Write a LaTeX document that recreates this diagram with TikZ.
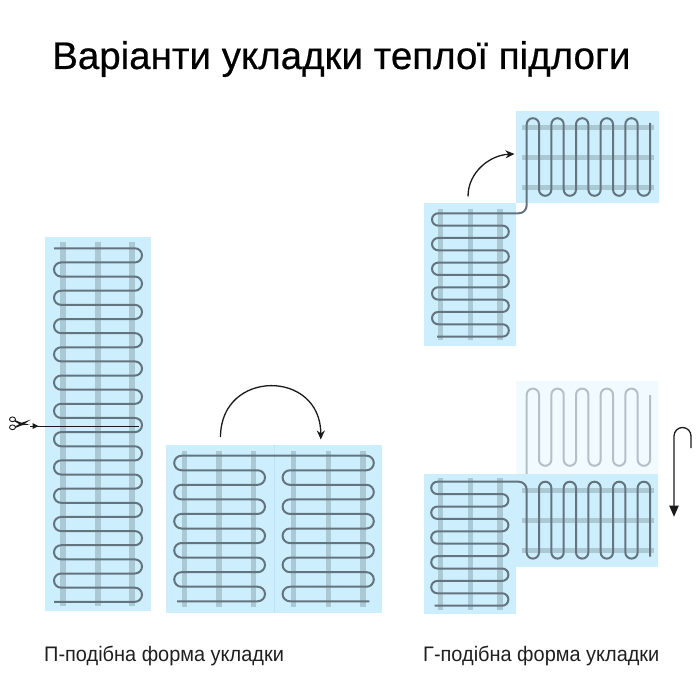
\documentclass[tikz,border=0pt]{standalone}
\usepackage{fontspec}
\setmainfont{Liberation Sans}
\newfontfamily\titlefont[FakeBold=0.5]{Liberation Sans}
\usetikzlibrary{arrows.meta}

\definecolor{matblue}{HTML}{CDEEFD}
\definecolor{matpale}{HTML}{F0FAFF}
\definecolor{matline}{HTML}{BFE3F3}
\definecolor{barblue}{HTML}{ABC8D5}
\definecolor{wiregray}{HTML}{64747F}
\definecolor{ghostgray}{HTML}{B6BFC5}
\definecolor{arrowgray}{HTML}{1A1A1A}

\tikzset{
    mat/.style={fill=matblue,draw=none},
    bar/.style={barblue,line width=5.5pt},
    wire/.style={wiregray,line width=2pt},
    ghostwire/.style={ghostgray,line width=2pt},
    turnarrow/.style={-{Stealth[length=9pt,width=8pt]},arrowgray,line width=1.3pt},
    captext/.style={anchor=base west,inner sep=0pt,xscale=0.95,font=\fontsize{21}{24}\selectfont,text=black!88},
}

% loops running left-right: style, start x, first turn x, second turn x, first y, pitch, last turn, end x
\newcommand{\hserp}[8]{
    \pgfmathsetmacro{\rad}{#6/2}
    \draw[#1,rounded corners=\rad pt] (#2,#5)
        foreach \k [evaluate=\k as \xt using {ifthenelse(mod(\k,2)==0,#3,#4)}] in {0,...,#7}
        { -- (\xt,{#5+\k*#6}) -- (\xt,{#5+(\k+1)*#6}) }
        -- (#8,{#5+(#7+1)*#6});
}
% loops running up-down: style, start y, first turn y, second turn y, first x, pitch, last turn, end y
\newcommand{\vserp}[8]{
    \pgfmathsetmacro{\rad}{#6/2}
    \draw[#1,rounded corners=\rad pt] (#5,#2)
        foreach \k [evaluate=\k as \yt using {ifthenelse(mod(\k,2)==0,#3,#4)}] in {0,...,#7}
        { -- ({#5+\k*#6},\yt) -- ({#5+(\k+1)*#6},\yt) }
        -- ({#5+(#7+1)*#6},#8);
}

\begin{document}
\begin{tikzpicture}[x=1pt,y=-1pt]
    \useasboundingbox (0,0) rectangle (700,700);

    % title and captions
    \node[anchor=base west,inner sep=0pt,font=\titlefont\fontsize{38.5}{42}\selectfont] (title) at (52,69) {Варіанти укладки теплої підлоги};
    \node[captext] (capleft) at (44,661.5) {П-подібна форма укладки};
    \node[captext] (capright) at (423,661.5) {Г-подібна форма укладки};

    % tall mat
    \fill[mat] (45,237) rectangle (151,611);
    \foreach \x in {63,98,132}
        \draw[bar] (\x,242) -- (\x,606);
    \hserp{wire}{54}{142}{54}{248.3}{14.14}{24}{54}

    % cut line with scissors
    \coordinate (cutstart) at (30,426);
    \coordinate (cutend) at (139,426);
    \draw[arrowgray,line width=1pt] (cutstart) -- (cutend);
    \fill[arrowgray] (32.5,423) -- (38.5,426) -- (32.5,429) -- cycle;
    \draw[arrowgray,line width=.9pt] (12.5,419.3) circle [x radius=3,y radius=2.4];
    \draw[arrowgray,line width=.9pt] (12.5,427.3) circle [x radius=3,y radius=2.4];
    \fill[arrowgray] (15,420) -- (22,423) -- (30,424.6) -- (21,425.2) -- (14.8,421.5) -- cycle;
    \fill[arrowgray] (15,426.6) -- (21,423) -- (31,419.5) -- (23,424.8) -- (15.2,428) -- cycle;

    % opened mat
    \fill[mat] (165.5,444.5) rectangle (382,612.5);
    \draw[matline,line width=.8pt] (274,444.5) -- (274,612.5);
    \foreach \x in {184.7,219,253.7,293.7,328.3,363}
        \draw[bar] (\x,451) -- (\x,607);
    \hserp{wire}{274}{174.2}{265}{455.7}{14.56}{9}{177}
    \hserp{wire}{274}{373.8}{282.6}{455.7}{14.56}{9}{369.3}

    \coordinate (turnfrom) at (220.5,437);
    \coordinate (turnto) at (320.8,439.5);
    \draw[turnarrow] (turnfrom) .. controls (220.5,369) and (320.8,369) .. (turnto);

    % upper right: two mats
    \fill[mat] (424.3,203) rectangle (516.3,346);
    \fill[mat] (516.3,111) rectangle (659.3,203);
    \foreach \x in {440.7,470.3,500}
        \draw[bar] (\x,209) -- (\x,340);
    \foreach \y in {127.7,157.3,187.3}
        \draw[bar] (522,\y) -- (654,\y);
    \hserp{wire}{500}{432}{508.8}{213.3}{12.33}{9}{437}
    \vserp{wire}{180}{118.2}{195.8}{526.7}{12.33}{9}{123}
    \draw[wire,rounded corners=8pt] (500,213.3) -- (526.7,213.3) -- (526.7,180);

    \coordinate (liftfrom) at (468,196.5);
    \coordinate (liftto) at (514.5,154);
    \draw[turnarrow] (liftfrom) .. controls (468,172) and (490,155) .. (liftto);

    % lower right: ghost mat
    \fill[matpale] (516.3,381) rectangle (658,474);
    \vserp{ghostwire}{474}{388.6}{465.8}{526.7}{12.33}{9}{395}

    % lower right: mats in place
    \fill[mat] (423.7,474) rectangle (516.3,614);
    \fill[mat] (516.3,474) rectangle (658,566.7);
    \foreach \x in {440.7,470.3,500}
        \draw[bar] (\x,478) -- (\x,609.5);
    \foreach \y in {490.7,520.7,550.7}
        \draw[bar] (522,\y) -- (654,\y);
    \hserp{wire}{500}{431.2}{508.4}{481.7}{12.4}{9}{434.5}
    \vserp{wire}{520}{558.6}{481.7}{526.7}{12.33}{9}{556.7}
    \draw[wire,rounded corners=8pt] (500,481.7) -- (526.7,481.7) -- (526.7,520);

    % hook arrow
    \coordinate (hookfrom) at (691,448);
    \coordinate (hookto) at (674,516.7);
    \draw[arrowgray,line width=1.3pt,rounded corners=8.5pt] (hookfrom) -- (691,427.5) -- (674,427.5) -- (674,506);
    \fill[arrowgray] (669.2,505.7) -- (678.8,505.7) -- (hookto) -- cycle;
\end{tikzpicture}
\end{document}
